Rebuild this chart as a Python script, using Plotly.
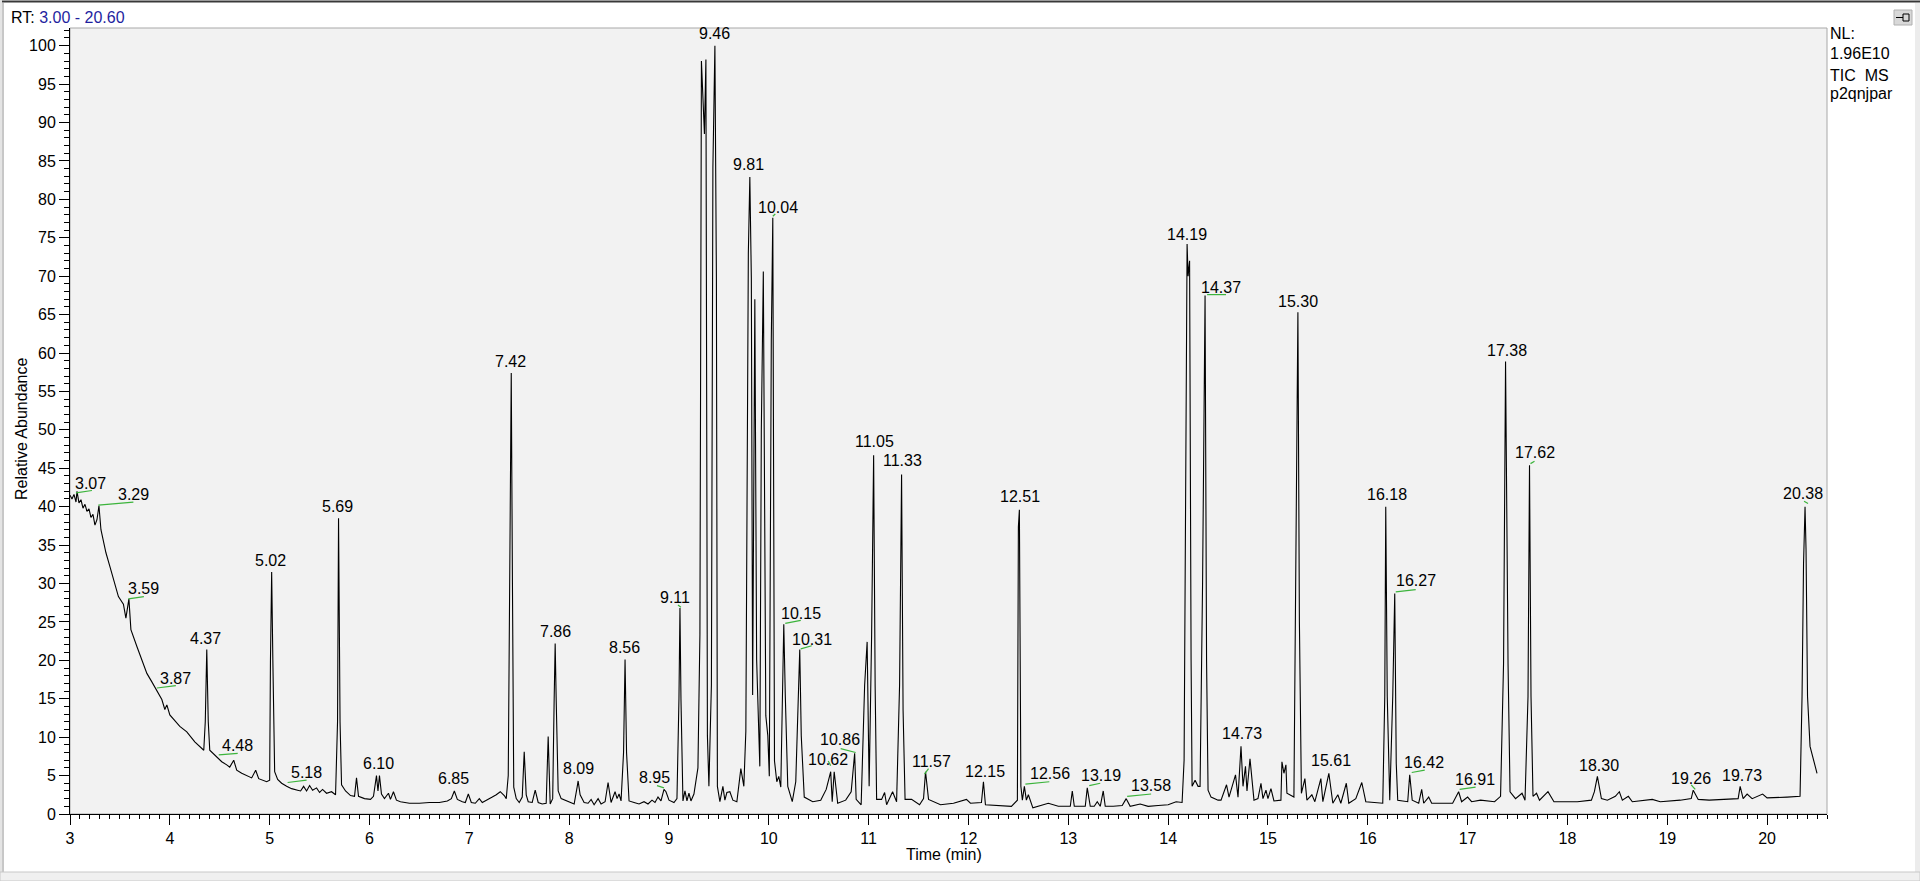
import plotly.graph_objects as go

# Chromatogramme TIC (temps de rétention en min, abondance relative en %)
rt = [
    3.00, 3.02, 3.04, 3.06, 3.07, 3.09, 3.11, 3.13, 3.15, 3.17, 3.19, 3.21, 3.23, 3.25, 3.27,
    3.29, 3.31, 3.33, 3.36, 3.40, 3.44, 3.485, 3.535, 3.56, 3.59, 3.61, 3.67, 3.72, 3.77, 3.82,
    3.87, 3.92, 3.95, 3.97, 4.00, 4.05, 4.10, 4.17, 4.25, 4.34, 4.355, 4.37, 4.385, 4.40, 4.44,
    4.47, 4.52, 4.57, 4.60, 4.64, 4.67, 4.72, 4.77, 4.82, 4.86, 4.89, 4.97, 5.00, 5.008, 5.02,
    5.032, 5.05, 5.08, 5.12, 5.17, 5.22, 5.28, 5.31, 5.34, 5.37, 5.40, 5.43, 5.47, 5.50, 5.53,
    5.57, 5.62, 5.66, 5.68, 5.69, 5.705, 5.72, 5.76, 5.81, 5.85, 5.87, 5.89, 5.95, 6.01, 6.04,
    6.07, 6.085, 6.10, 6.12, 6.15, 6.19, 6.21, 6.24, 6.27, 6.31, 6.40, 6.50, 6.60, 6.70, 6.78,
    6.82, 6.85, 6.88, 6.93, 6.96, 6.99, 7.02, 7.06, 7.10, 7.13, 7.18, 7.23, 7.27, 7.31, 7.35,
    7.37, 7.39, 7.405, 7.42, 7.432, 7.445, 7.47, 7.50, 7.53, 7.55, 7.57, 7.59, 7.63, 7.66, 7.69,
    7.73, 7.77, 7.79, 7.81, 7.835, 7.85, 7.86, 7.87, 7.89, 7.92, 7.97, 8.02, 8.05, 8.08, 8.09,
    8.11, 8.15, 8.19, 8.22, 8.25, 8.29, 8.32, 8.36, 8.39, 8.42, 8.46, 8.48, 8.50, 8.52, 8.545,
    8.56, 8.575, 8.60, 8.65, 8.70, 8.75, 8.79, 8.83, 8.86, 8.89, 8.92, 8.95, 8.97, 9.00, 9.05,
    9.08, 9.10, 9.11, 9.12, 9.14, 9.16, 9.18, 9.20, 9.22, 9.25, 9.29, 9.31, 9.325, 9.34, 9.355,
    9.37, 9.385, 9.40, 9.425, 9.44, 9.46, 9.475, 9.485, 9.51, 9.54, 9.56, 9.58, 9.61, 9.64, 9.68,
    9.72, 9.75, 9.77, 9.795, 9.81, 9.825, 9.838, 9.86, 9.878, 9.893, 9.91, 9.925, 9.945, 9.97, 9.99,
    10.005, 10.025, 10.04, 10.057, 10.08, 10.10, 10.12, 10.14, 10.15, 10.165, 10.19, 10.235, 10.27, 10.31, 10.325,
    10.355, 10.44, 10.52, 10.575, 10.62, 10.635, 10.655, 10.69, 10.77, 10.825, 10.86, 10.875, 10.925, 10.96, 10.985,
    11.005, 11.03, 11.05, 11.065, 11.08, 11.13, 11.16, 11.18, 11.24, 11.28, 11.31, 11.33, 11.345, 11.365, 11.43,
    11.51, 11.55, 11.57, 11.60, 11.72, 11.85, 11.98, 12.02, 12.13, 12.15, 12.17, 12.30, 12.43, 12.49, 12.50,
    12.51, 12.525, 12.54, 12.56, 12.58, 12.60, 12.645, 12.70, 12.80, 12.90, 13.02, 13.04, 13.06, 13.17, 13.19,
    13.22, 13.26, 13.29, 13.32, 13.35, 13.37, 13.45, 13.54, 13.58, 13.62, 13.72, 13.80, 13.90, 14.00, 14.08,
    14.14, 14.16, 14.175, 14.19, 14.20, 14.215, 14.23, 14.24, 14.27, 14.30, 14.32, 14.345, 14.37, 14.385, 14.40,
    14.43, 14.50, 14.53, 14.585, 14.61, 14.675, 14.70, 14.73, 14.75, 14.775, 14.79, 14.82, 14.86, 14.90, 14.93,
    14.95, 14.98, 15.00, 15.03, 15.06, 15.13, 15.14, 15.16, 15.18, 15.19, 15.26, 15.28, 15.30, 15.315, 15.335,
    15.37, 15.39, 15.44, 15.47, 15.53, 15.55, 15.61, 15.65, 15.70, 15.73, 15.785, 15.81, 15.88, 15.94, 15.98,
    16.15, 16.17, 16.18, 16.195, 16.22, 16.25, 16.27, 16.285, 16.30, 16.40, 16.42, 16.445, 16.51, 16.54, 16.56,
    16.61, 16.64, 16.85, 16.91, 16.94, 17.00, 17.04, 17.13, 17.27, 17.33, 17.36, 17.38, 17.405, 17.425, 17.48,
    17.545, 17.575, 17.605, 17.62, 17.635, 17.655, 17.69, 17.72, 17.805, 17.865, 18.10, 18.24, 18.27, 18.30, 18.34,
    18.40, 18.48, 18.52, 18.55, 18.61, 18.65, 18.85, 18.93, 19.13, 19.24, 19.26, 19.31, 19.42, 19.55, 19.71,
    19.73, 19.76, 19.80, 19.85, 19.955, 20.00, 20.20, 20.33, 20.35, 20.365, 20.38, 20.39, 20.405, 20.43, 20.50,
]
abundance = [
    41.5, 41.0, 41.6, 40.6, 42.0, 40.5, 40.9, 39.8, 40.3, 39.4, 39.7, 38.6, 39.0, 37.6, 38.3,
    40.1, 37.0, 35.7, 34.0, 32.2, 30.5, 28.3, 27.3, 25.5, 28.0, 24.0, 21.8, 19.9, 18.3, 17.2,
    16.1, 14.9, 13.6, 14.2, 12.9, 12.2, 11.4, 10.7, 9.4, 8.3, 12.0, 21.4, 12.0, 8.3, 7.8,
    7.3, 6.8, 6.4, 6.1, 7.0, 5.7, 5.3, 5.0, 4.7, 5.7, 4.6, 4.2, 4.4, 20.0, 31.5,
    20.0, 5.5, 4.5, 4.0, 3.6, 3.3, 3.1, 3.0, 3.6, 3.0, 3.7, 3.1, 3.4, 2.8, 3.2,
    2.7, 2.9, 2.5, 12.0, 38.5, 12.0, 3.8, 3.0, 2.4, 2.3, 4.7, 2.3, 2.0, 1.9, 2.3,
    5.0, 3.0, 5.0, 2.6, 2.0, 2.7, 1.9, 2.9, 1.8, 1.6, 1.4, 1.4, 1.5, 1.5, 1.7,
    2.0, 3.0, 1.9, 1.6, 1.5, 2.6, 1.5, 1.4, 2.0, 1.5, 1.8, 2.2, 2.5, 2.9, 2.4,
    2.0, 5.0, 30.0, 57.4, 30.0, 3.5, 2.0, 1.5, 2.2, 8.1, 2.5, 1.6, 1.5, 3.1, 1.5,
    1.3, 1.4, 10.1, 1.3, 2.0, 15.0, 22.2, 15.0, 3.0, 2.0, 1.7, 1.5, 1.3, 3.5, 4.3,
    2.5, 1.5, 1.4, 1.9, 1.2, 2.0, 1.3, 1.6, 4.1, 1.5, 2.9, 2.0, 2.6, 1.7, 8.0,
    20.1, 8.0, 1.7, 1.5, 1.3, 1.6, 1.3, 1.8, 1.5, 2.2, 1.7, 3.2, 2.9, 1.8, 1.5,
    2.0, 15.0, 26.8, 15.0, 1.7, 3.0, 1.7, 2.7, 1.7, 2.6, 6.0, 23.4, 98.0, 92.8, 88.5,
    98.2, 10.2, 3.6, 16.8, 84.2, 100.0, 69.7, 3.6, 1.6, 3.6, 1.8, 2.8, 2.9, 1.8, 1.6,
    5.9, 3.6, 10.8, 73.0, 82.9, 69.7, 15.5, 67.0, 20.1, 13.5, 6.2, 50.0, 70.6, 12.8, 10.2,
    4.9, 61.7, 77.6, 6.9, 4.2, 4.9, 3.5, 16.8, 24.7, 15.5, 3.6, 1.6, 4.2, 21.4, 10.2,
    2.2, 1.6, 1.8, 3.2, 5.5, 1.6, 5.5, 1.4, 1.8, 2.9, 7.9, 1.9, 1.2, 16.8, 22.4,
    3.6, 23.4, 46.7, 16.8, 1.9, 1.9, 2.8, 1.2, 2.9, 1.6, 16.8, 44.2, 13.5, 1.9, 1.9,
    1.2, 2.0, 5.5, 1.9, 1.2, 1.4, 1.9, 1.4, 1.5, 4.2, 1.2, 1.1, 1.0, 1.8, 37.4,
    39.6, 3.6, 1.8, 3.6, 1.8, 2.5, 0.8, 1.0, 1.4, 1.0, 1.0, 3.0, 1.0, 1.0, 3.4,
    1.0, 1.0, 1.6, 1.0, 3.0, 1.0, 1.0, 1.1, 2.0, 1.0, 1.3, 1.0, 1.1, 1.2, 1.6,
    1.5, 7.0, 50.0, 74.2, 70.0, 72.0, 20.0, 3.6, 4.4, 3.6, 3.6, 30.0, 67.5, 20.0, 3.1,
    2.2, 1.8, 1.8, 3.8, 2.2, 5.1, 2.2, 8.8, 3.6, 6.2, 3.0, 7.2, 1.8, 2.0, 4.0,
    2.0, 3.1, 2.0, 3.3, 1.7, 1.8, 6.8, 5.3, 6.4, 2.7, 2.2, 30.0, 65.3, 25.0, 2.7,
    4.6, 1.8, 2.5, 1.6, 4.6, 1.6, 5.3, 1.4, 2.5, 1.4, 4.0, 1.4, 2.0, 4.1, 1.6,
    1.4, 15.3, 40.0, 15.3, 1.8, 15.3, 28.7, 6.6, 1.8, 1.6, 5.1, 1.8, 1.4, 3.2, 1.4,
    2.2, 1.4, 1.4, 2.9, 1.6, 2.2, 1.6, 1.8, 1.6, 2.3, 19.6, 58.9, 19.6, 2.9, 2.0,
    2.7, 1.8, 15.3, 45.4, 15.3, 2.3, 2.7, 1.8, 2.9, 1.6, 1.6, 1.8, 2.9, 4.9, 2.0,
    1.8, 2.3, 2.9, 1.8, 2.3, 1.6, 1.9, 1.6, 1.8, 2.0, 3.1, 1.9, 1.8, 1.9, 2.0,
    3.6, 2.0, 2.6, 2.0, 2.6, 2.1, 2.2, 2.3, 15.3, 32.6, 40.0, 34.4, 15.3, 8.8, 5.3,
]

# Étiquettes des pics : texte, position du centre (min) et bas du texte (%)
label_text = [
    "3.07", "3.29", "3.59", "3.87", "4.37", "4.48", "5.02", "5.18", "5.69", "6.10",
    "6.85", "7.42", "7.86", "8.09", "8.56", "8.95", "9.11", "9.46", "9.81", "10.04",
    "10.15", "10.31", "10.62", "10.86", "11.05", "11.33", "11.57", "12.15", "12.51", "12.56",
    "13.19", "13.58", "14.19", "14.37", "14.73", "15.30", "15.61", "16.18", "16.27", "16.42",
    "16.91", "17.38", "17.62", "18.30", "19.26", "19.73", "20.38",
]
label_rt = [
    3.21, 3.635, 3.735, 4.053, 4.36, 4.68, 5.01, 5.367, 5.68, 6.09,
    6.845, 7.41, 7.86, 8.09, 8.55, 8.857, 9.065, 9.46, 9.797, 10.095,
    10.322, 10.43, 10.59, 10.717, 11.058, 11.34, 11.626, 12.17, 12.519, 12.813,
    13.325, 13.833, 14.19, 14.525, 14.735, 15.30, 15.627, 16.19, 16.48, 16.56,
    17.075, 17.393, 17.677, 18.32, 19.242, 19.744, 20.359,
]
label_y = [
    42.2, 40.8, 28.5, 16.8, 22.0, 8.1, 32.2, 4.55, 39.2, 5.7,
    3.8, 58.0, 22.9, 5.1, 20.8, 3.9, 27.3, 100.8, 83.7, 78.1,
    25.2, 21.9, 6.3, 8.8, 47.6, 45.1, 6.0, 4.7, 40.45, 4.4,
    4.2, 2.8, 74.6, 67.7, 9.6, 65.8, 6.07, 40.8, 29.5, 5.9,
    3.7, 59.5, 46.2, 5.5, 3.8, 4.2, 40.9,
]

# Petits traits verts reliant certains pics à leur étiquette
mark_x0 = [3.06, 3.284, 3.585, 3.87, 4.49, 5.18, 8.88, 9.09, 10.04, 10.165, 10.32, 10.595, 10.72,
           11.56, 12.57, 13.21, 13.59, 14.39, 16.28, 16.44, 16.92, 17.63, 19.24, 20.37]
mark_y0 = [41.8, 40.2, 28.0, 16.4, 7.7, 4.1, 3.7, 27.2, 77.8, 24.8, 21.5, 6.9, 8.5,
           5.2, 3.9, 3.7, 2.3, 67.6, 28.9, 5.4, 3.2, 45.6, 3.8, 40.7]
mark_x1 = [3.22, 3.635, 3.74, 4.06, 4.68, 5.37, 8.95, 9.12, 10.065, 10.32, 10.43, 10.62, 10.87,
           11.60, 12.81, 13.32, 13.83, 14.58, 16.48, 16.57, 17.08, 17.67, 19.28, 20.41]
mark_y1 = [42.1, 40.6, 28.3, 16.7, 7.9, 4.4, 3.4, 26.9, 78.1, 25.2, 21.9, 6.3, 8.0,
           5.9, 4.2, 4.0, 2.6, 67.6, 29.2, 5.7, 3.5, 45.9, 3.2, 40.4]

x_ticks = list(range(3, 21))
y_ticks = list(range(0, 101, 5))

# Géométrie de la fenêtre (pixels)
W, H = 1920, 881
L, R, T, B = 70, 1827, 28, 814
Y_TOP = 102.3
FONT = "Liberation Sans, Arial, sans-serif"


def px(x):
    return (x - L) / (R - L)


def py(y):
    return (B - y) / (B - T)


fig = go.Figure()

fig.add_trace(go.Scatter(
    x=rt, y=abundance, mode="lines",
    line=dict(color="black", width=1.1),
    hoverinfo="skip", showlegend=False,
))

gx, gy = [], []
for a, b, c, d in zip(mark_x0, mark_y0, mark_x1, mark_y1):
    gx += [a, c, None]
    gy += [b, d, None]
fig.add_trace(go.Scatter(
    x=gx, y=gy, mode="lines",
    line=dict(color="#3cb43c", width=1.2),
    hoverinfo="skip", showlegend=False,
))

annotations = []
for txt, xv, yv in zip(label_text, label_rt, label_y):
    annotations.append(dict(
        x=xv, y=yv, xref="x", yref="y", text=txt, showarrow=False,
        xanchor="center", yanchor="bottom", yshift=-4,
        font=dict(family=FONT, size=16, color="black"),
    ))

# Textes de la fenêtre
annotations += [
    dict(x=px(9), y=py(18), xref="paper", yref="paper", xanchor="left", yanchor="middle",
         text="RT: <span style='color:#1f1f9f'>3.00 - 20.60</span>", showarrow=False,
         font=dict(family=FONT, size=16, color="black")),
    dict(x=px(21), y=py(429), xref="paper", yref="paper", textangle=-90,
         xanchor="center", yanchor="middle",
         text="Relative Abundance", showarrow=False,
         font=dict(family=FONT, size=16, color="black")),
    dict(x=px(944), y=py(854), xref="paper", yref="paper",
         xanchor="center", yanchor="middle",
         text="Time (min)", showarrow=False,
         font=dict(family=FONT, size=16, color="black")),
]
for txt, yc in zip(["NL:", "1.96E10", "TIC\u00a0\u00a0MS", "p2qnjpar"], [33, 53, 75, 93]):
    annotations.append(dict(
        x=px(1828), y=py(yc), xref="paper", yref="paper", xanchor="left", yanchor="middle",
        text=txt, showarrow=False, font=dict(family=FONT, size=16, color="black"),
    ))

shapes = [
    # cadre gris clair de la zone de tracé
    dict(type="rect", xref="paper", yref="paper", x0=0, y0=0, x1=1, y1=1,
         line=dict(color="#a8a8a8", width=1), layer="below"),
    # bordure supérieure de la fenêtre
    dict(type="line", xref="paper", yref="paper", x0=px(0), x1=px(W), y0=py(1.5), y1=py(1.5),
         line=dict(color="#383838", width=2)),
    # bord gauche
    dict(type="rect", xref="paper", yref="paper", x0=px(0), x1=px(2), y0=py(H), y1=py(0),
         fillcolor="#e4e4e4", line=dict(width=0)),
    dict(type="line", xref="paper", yref="paper", x0=px(3), x1=px(3), y0=py(H), y1=py(3),
         line=dict(color="#909090", width=1)),
    # bord droit
    dict(type="rect", xref="paper", yref="paper", x0=px(1915), x1=px(W), y0=py(H), y1=py(3),
         fillcolor="#ececec", line=dict(width=0)),
    # bande inférieure
    dict(type="rect", xref="paper", yref="paper", x0=px(0), x1=px(W), y0=py(H), y1=py(872),
         fillcolor="#f0f0f0", line=dict(color="#c8c8c8", width=1)),
    # icône d'épingle
    dict(type="rect", xref="paper", yref="paper", x0=px(1894), x1=px(1912), y0=py(25), y1=py(10),
         fillcolor="#d8d8d8", line=dict(color="#b0b0b0", width=1)),
    dict(type="line", xref="paper", yref="paper", x0=px(1896), x1=px(1903), y0=py(17.5), y1=py(17.5),
         line=dict(color="black", width=1)),
    dict(type="rect", xref="paper", yref="paper", x0=px(1903), x1=px(1909), y0=py(21), y1=py(14),
         line=dict(color="black", width=1)),
]

fig.update_layout(
    width=W, height=H,
    margin=dict(l=L, r=W - R, t=T, b=H - B, pad=0),
    paper_bgcolor="white",
    plot_bgcolor="#f2f2f2",
    font=dict(family=FONT, size=16, color="black"),
    showlegend=False,
    annotations=annotations,
    shapes=shapes,
)
fig.update_xaxes(
    range=[3, 20.6], tickvals=x_ticks, ticktext=[str(v) for v in x_ticks],
    ticks="outside", ticklen=10, tickcolor="black", tickwidth=1,
    minor=dict(dtick=0.1, tick0=3, ticks="outside", ticklen=4, tickcolor="black", showgrid=False),
    showline=True, linecolor="black", linewidth=1,
    showgrid=False, zeroline=False, tickfont=dict(size=16),
)
fig.update_yaxes(
    range=[0, Y_TOP], tickvals=y_ticks, ticktext=[str(v) for v in y_ticks],
    ticks="outside", ticklen=10, tickcolor="black", tickwidth=1,
    minor=dict(dtick=1, tick0=0, ticks="outside", ticklen=5, tickcolor="black", showgrid=False),
    showline=True, linecolor="black", linewidth=1,
    showgrid=False, zeroline=False, tickfont=dict(size=16),
)

# la page HTML par défaut garde une marge de 8 px autour du graphique
fig.write_html("out.html", config={"displayModeBar": False},
               post_script="document.body.style.margin='0px';")
